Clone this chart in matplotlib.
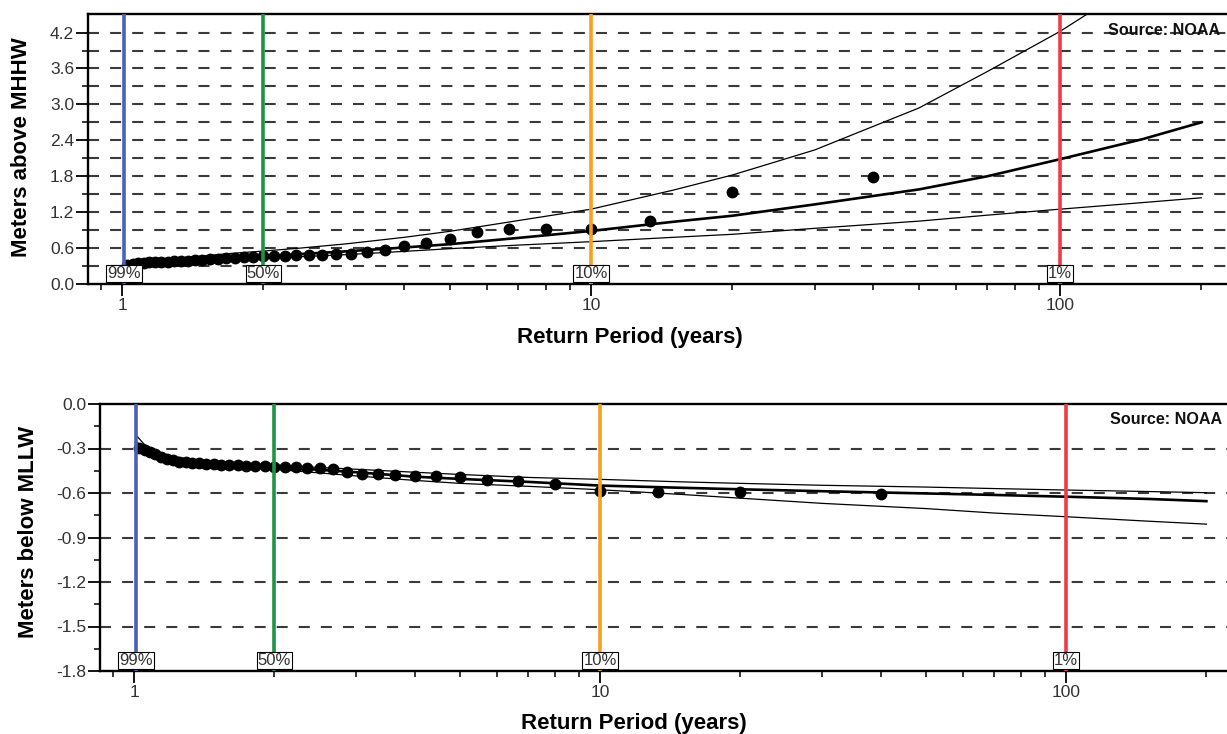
import matplotlib
matplotlib.use('Agg')
import matplotlib.pyplot as plt
from matplotlib.ticker import FixedLocator, FormatStrFormatter, NullFormatter
import numpy as np

plt.rcParams['font.family'] = ['Liberation Sans', 'DejaVu Sans']
plt.rcParams['axes.unicode_minus'] = False

# ---------------- data ----------------
# observed return periods (years), largest event first
obs_T = [40.0, 20.0, 13.33, 10.0, 8.0, 6.667, 5.714, 5.0, 4.444, 4.0, 3.636, 3.333,
         3.077, 2.857, 2.667, 2.5, 2.353, 2.222, 2.105, 2.0, 1.905, 1.818, 1.739,
         1.667, 1.6, 1.538, 1.481, 1.429, 1.379, 1.333, 1.290, 1.25, 1.212, 1.176,
         1.143, 1.111, 1.081, 1.053, 1.026]
high_obs = [1.79, 1.54, 1.06, 0.92, 0.92, 0.915, 0.875, 0.75, 0.68, 0.635, 0.56, 0.53,
            0.50, 0.495, 0.485, 0.485, 0.48, 0.475, 0.47, 0.46, 0.455, 0.45, 0.44,
            0.43, 0.42, 0.41, 0.40, 0.395, 0.39, 0.385, 0.38, 0.375, 0.37, 0.365,
            0.36, 0.355, 0.345, 0.335, 0.325]
low_obs = [-0.607, -0.593, -0.59, -0.587, -0.542, -0.52, -0.515, -0.495, -0.486, -0.484,
           -0.481, -0.474, -0.47, -0.461, -0.436, -0.432, -0.43, -0.428, -0.425, -0.423,
           -0.42, -0.418, -0.415, -0.412, -0.41, -0.408, -0.405, -0.403, -0.40, -0.397,
           -0.393, -0.388, -0.38, -0.37, -0.355, -0.34, -0.325, -0.31, -0.295]

# fitted curve and confidence limits
curve_T = [1.01, 1.05, 1.1, 1.2, 1.3, 1.5, 1.7, 2, 2.4, 3, 4, 5, 7, 10, 15, 20, 30, 50,
           70, 100, 150, 200]
high_fit = [0.29, 0.31, 0.33, 0.355, 0.37, 0.40, 0.43, 0.46, 0.50, 0.545, 0.61, 0.665,
            0.77, 0.886, 1.04, 1.14, 1.33, 1.58, 1.80, 2.085, 2.42, 2.70]
high_upper = [0.30, 0.33, 0.36, 0.40, 0.43, 0.47, 0.51, 0.55, 0.60, 0.67, 0.78, 0.88,
              1.06, 1.25, 1.57, 1.82, 2.24, 2.94, 3.55, 4.22, 5.10, 5.90]
high_lower = [0.27, 0.29, 0.31, 0.335, 0.35, 0.375, 0.40, 0.42, 0.455, 0.49, 0.545, 0.59,
              0.65, 0.707, 0.78, 0.83, 0.93, 1.05, 1.15, 1.25, 1.36, 1.44]
low_fit = [-0.26, -0.30, -0.33, -0.365, -0.38, -0.40, -0.41, -0.425, -0.44, -0.46, -0.49,
           -0.505, -0.525, -0.55, -0.565, -0.575, -0.588, -0.603, -0.613, -0.625, -0.64,
           -0.655]
low_upper = [-0.21, -0.27, -0.31, -0.35, -0.37, -0.39, -0.40, -0.41, -0.425, -0.44, -0.46,
             -0.475, -0.495, -0.508, -0.525, -0.535, -0.548, -0.56, -0.57, -0.58, -0.59,
             -0.598]
low_lower = [-0.28, -0.315, -0.345, -0.38, -0.395, -0.415, -0.425, -0.44, -0.46, -0.485,
             -0.515, -0.535, -0.555, -0.578, -0.61, -0.635, -0.67, -0.705, -0.735, -0.76,
             -0.79, -0.81]

pct_labels = ['99%', '50%', '10%', '1%']
pct_T = [1.0101, 2.0, 10.0, 100.0]
pct_colors = ['#4862b8', '#1f9447', '#f7a020', '#ef3b45']

x_major = [1, 10, 100]
x_major_labels = ['1', '10', '100']
x_minor = [0.9, 2, 3, 4, 5, 6, 7, 8, 9, 20, 30, 40, 50, 60, 70, 80, 90, 200]

high_yticks = [0.0, 0.6, 1.2, 1.8, 2.4, 3.0, 3.6, 4.2]
high_yminor = [0.3, 0.9, 1.5, 2.1, 2.7, 3.3, 3.9]
high_grid = [0.3, 0.6, 0.9, 1.2, 1.5, 1.8, 2.1, 2.4, 2.7, 3.0, 3.3, 3.6, 3.9, 4.2]
low_yticks = [0.0, -0.3, -0.6, -0.9, -1.2, -1.5, -1.8]
low_yminor = [-0.15, -0.45, -0.75, -1.05, -1.35, -1.65]
low_grid = [-0.3, -0.6, -0.9, -1.2, -1.5]

# ---------------- figure ----------------
W, H = 1227, 734
fig = plt.figure(figsize=(W / 100, H / 100), dpi=100)


def px_axes(l, t, r, b):
    return fig.add_axes([l / W, 1 - b / H, (r - l) / W, (b - t) / H])


ax1 = px_axes(88, 14, 1238, 284)
ax2 = px_axes(100, 404, 1240, 671)

TXT = '#333333'


def style(ax, xlim, ylim, yt, ymin, grid, fmt):
    ax.set_xscale('log')
    ax.set_xlim(*xlim)
    ax.set_ylim(*ylim)
    ax.xaxis.set_major_locator(FixedLocator(x_major))
    ax.set_xticklabels(x_major_labels)
    ax.xaxis.set_minor_locator(FixedLocator(x_minor))
    ax.xaxis.set_minor_formatter(NullFormatter())
    ax.yaxis.set_major_locator(FixedLocator(yt))
    ax.yaxis.set_major_formatter(FormatStrFormatter(fmt))
    ax.yaxis.set_minor_locator(FixedLocator(ymin))
    ax.tick_params(which='major', length=8.5, width=1.3, direction='out',
                   labelsize=12.5, labelcolor=TXT, pad=1.5)
    ax.tick_params(which='minor', length=4.2, width=1.1, direction='out')
    for s in ax.spines.values():
        s.set_linewidth(1.7)
        s.set_color('black')
    for g in grid:
        ax.axhline(g, color='#3a3a3a', lw=1.5, ls=(0, (5.3, 5.3)), zorder=1)


style(ax1, (0.846, 239.5), (0, 4.51), high_yticks, high_yminor, high_grid, '%.1f')
style(ax2, (0.845, 236.1), (-1.8, 0), low_yticks, low_yminor, low_grid, '%.1f')


def draw(ax, fit, up, lo, obs):
    ax.plot(curve_T, up, color='black', lw=0.9, zorder=2)
    ax.plot(curve_T, lo, color='black', lw=0.9, zorder=2)
    ax.plot(curve_T, fit, color='black', lw=1.9, zorder=2)
    ax.plot(obs_T, obs, 'o', color='black', ms=7.5, zorder=3)
    for T, c, lab in zip(pct_T, pct_colors, pct_labels):
        ax.axvline(T, color=c, lw=2.6, zorder=4)
        ax.annotate(lab, xy=(T, 0), xycoords=('data', 'axes fraction'),
                    xytext=(0, 2.3), textcoords='offset points', ha='center', va='bottom',
                    fontsize=12, color=TXT, zorder=6,
                    bbox=dict(boxstyle='square,pad=0.06', fc='white', ec='black', lw=0.8))


draw(ax1, high_fit, high_upper, high_lower, high_obs)
draw(ax2, low_fit, low_upper, low_lower, low_obs)

ax1.text((1108 - 88) / 1150, 1 - 16.5 / 270, 'Source: NOAA', transform=ax1.transAxes,
         ha='left', va='center', fontsize=11.6, fontweight='bold', color='#111111', zorder=7)
ax2.text((1110 - 100) / 1140, 1 - 15.5 / 267, 'Source: NOAA', transform=ax2.transAxes,
         ha='left', va='center', fontsize=11.6, fontweight='bold', color='#111111', zorder=7)

for ax, yl, (xx, yy), (lx, ly) in [
        (ax1, 'Meters above MHHW', (-0.0574, 0.507), (0.471, -0.198)),
        (ax2, 'Meters below MLLW', (-0.0623, 0.519), (0.468, -0.195))]:
    ax.set_xlabel('Return Period (years)', fontsize=16, fontweight='bold', color='black')
    ax.xaxis.label.set_va('center')
    ax.xaxis.set_label_coords(lx, ly)
    ax.set_ylabel(yl, fontsize=16, fontweight='bold', color='black')
    ax.yaxis.label.set_va('center')
    ax.yaxis.set_label_coords(xx, yy)

fig.savefig('out.png', dpi=100)
